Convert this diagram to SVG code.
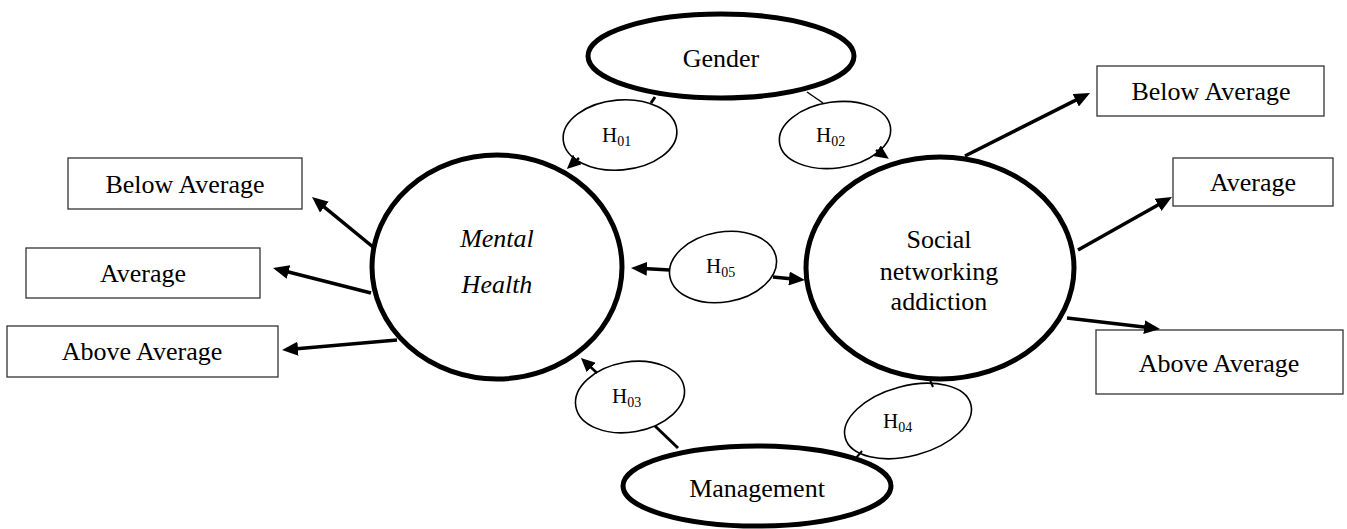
<svg xmlns="http://www.w3.org/2000/svg" width="1347" height="529" viewBox="0 0 1347 529">
<style>
text{font-family:"Liberation Serif","Times New Roman",serif;fill:#000}
.lbl{font-size:26px;text-anchor:middle}
.h{font-size:21px}
.sub{font-size:14px}
.box{fill:#fff;stroke:#333;stroke-width:1.3}
.big{fill:#fff;stroke:#000;stroke-width:5}
.hyp{fill:#fff;stroke:#000;stroke-width:1.6}
.arr{stroke:#000;stroke-width:3.5;fill:none;marker-end:url(#ah)}
.sarr{stroke:#000;stroke-width:2.5;fill:none;marker-end:url(#ahs)}
.ln{stroke:#000;fill:none}
</style>
<defs>
<marker id="ah" markerUnits="userSpaceOnUse" markerWidth="17" markerHeight="14" refX="4" refY="7" orient="auto">
<path d="M0,0 L16,7 L0,14 z" fill="#000"/>
</marker>
<marker id="ahs" markerUnits="userSpaceOnUse" markerWidth="15" markerHeight="13" refX="3" refY="6.5" orient="auto">
<path d="M0,0 L14,6.5 L0,13 z" fill="#000"/>
</marker>
</defs>

<g id="box-left-below"><rect class="box" x="68" y="158" width="234" height="51"/><text class="lbl" x="185" y="193">Below Average</text></g>
<g id="box-left-average"><rect class="box" x="26" y="248" width="234" height="50"/><text class="lbl" x="143" y="282">Average</text></g>
<g id="box-left-above"><rect class="box" x="7" y="326" width="271" height="51"/><text class="lbl" x="142" y="360">Above Average</text></g>
<g id="box-right-below"><rect class="box" x="1097" y="66" width="227" height="50"/><text class="lbl" x="1211" y="100">Below Average</text></g>
<g id="box-right-average"><rect class="box" x="1173" y="158" width="160" height="48"/><text class="lbl" x="1253" y="191">Average</text></g>
<g id="box-right-above"><rect class="box" x="1096" y="330" width="247" height="64"/><text class="lbl" x="1219" y="372">Above Average</text></g>

<g id="gender"><ellipse class="big" cx="721" cy="56" rx="133" ry="42"/><text class="lbl" x="721" y="67">Gender</text></g>
<g id="management"><ellipse class="big" cx="757" cy="486" rx="134" ry="40"/><text class="lbl" x="757" y="497">Management</text></g>
<g id="mental-health"><ellipse class="big" cx="497" cy="267" rx="125" ry="112"/><text class="lbl" x="497" y="247" font-style="italic">Mental</text><text class="lbl" x="497" y="293" font-style="italic">Health</text></g>
<g id="social-networking-addiction"><ellipse class="big" cx="940" cy="268" rx="134" ry="111"/><text class="lbl" x="939" y="248">Social</text><text class="lbl" x="939" y="280">networking</text><text class="lbl" x="939" y="310">addiction</text></g>

<g id="h01"><ellipse class="hyp" cx="620" cy="135" rx="57" ry="35" transform="rotate(-5 620 135)"/><text class="h" x="602" y="142">H<tspan class="sub" dy="4">01</tspan></text></g>
<g id="h02"><ellipse class="hyp" cx="835" cy="135" rx="56" ry="33" transform="rotate(-8 835 135)"/><text class="h" x="816" y="142">H<tspan class="sub" dy="4">02</tspan></text></g>
<g id="h05"><ellipse class="hyp" cx="723" cy="267" rx="54" ry="35" transform="rotate(-10 723 267)"/><text class="h" x="706" y="273">H<tspan class="sub" dy="4">05</tspan></text></g>
<g id="h03"><ellipse class="hyp" cx="630" cy="397" rx="55" ry="35" transform="rotate(-10 630 397)"/><text class="h" x="612" y="403">H<tspan class="sub" dy="4">03</tspan></text></g>
<g id="h04"><ellipse class="hyp" cx="908" cy="421" rx="65" ry="35" transform="rotate(-15 908 421)"/><text class="h" x="883" y="428">H<tspan class="sub" dy="4">04</tspan></text></g>

<g id="connectors">
<line class="arr" x1="373" y1="247" x2="321.3" y2="204.6"/>
<line class="arr" x1="371" y1="293" x2="284.6" y2="271"/>
<line class="arr" x1="397" y1="340" x2="294" y2="349"/>
<line class="arr" x1="670" y1="270" x2="643" y2="268.6"/>
<line class="arr" x1="773" y1="277" x2="793" y2="278.9"/>
<line class="arr" x1="965" y1="156" x2="1079.3" y2="98.4"/>
<line class="arr" x1="1078" y1="250" x2="1161.5" y2="202.9"/>
<line class="arr" x1="1067" y1="318" x2="1148.1" y2="327.6"/>
<line class="sarr" x1="579" y1="158" x2="575" y2="161.6"/>
<line class="sarr" x1="876" y1="150" x2="879.7" y2="152.5"/>
<line class="sarr" x1="597" y1="373" x2="589" y2="365.5"/>
<line class="ln" stroke-width="3" x1="655" y1="97" x2="651" y2="103"/>
<line class="ln" stroke-width="1.5" x1="807" y1="92" x2="823" y2="103"/>
<line class="ln" stroke-width="3" x1="655" y1="426" x2="678" y2="448"/>
<line class="ln" stroke-width="2" x1="856" y1="458" x2="862" y2="451"/>
<line class="ln" stroke-width="2" x1="930" y1="380" x2="933" y2="387"/>
</g>
</svg>
